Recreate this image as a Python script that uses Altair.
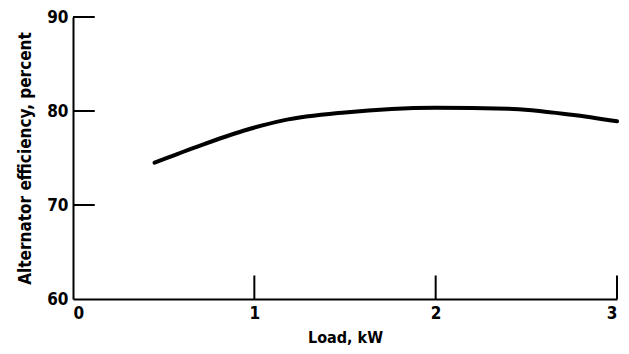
import altair as alt
import pandas as pd

# Curve data
load_kw = [0.45, 0.67, 0.94, 1.16, 1.5, 2.0, 2.4, 2.75, 3.0]
efficiency = [74.5, 76.1, 77.9, 79.0, 79.85, 80.35, 80.25, 79.6, 78.9]

# Axis tick values
x_ticks = [0, 1, 2, 3]
y_ticks = [60, 70, 80, 90]
x_inner_ticks = [1, 2, 3]
y_inner_ticks = [70, 80, 90]

FONT = "DejaVu Sans Condensed, Liberation Sans, sans-serif"

curve_df = pd.DataFrame({"load": load_kw, "eff": efficiency})
xt_df = pd.DataFrame({"x": x_inner_ticks, "y0": [60] * 3, "y1": [62.5] * 3})
yt_df = pd.DataFrame({"y": y_inner_ticks, "x0": [0] * 3, "x1": [0.12] * 3})

xscale = alt.Scale(domain=[0, 3], nice=False, zero=False)
yscale = alt.Scale(domain=[60, 90], nice=False, zero=False)

xaxis = alt.Axis(values=x_ticks, format="d", ticks=False, grid=False, domainWidth=2,
                 domainColor="black", labelFont=FONT, labelFontSize=17,
                 labelFontWeight="bold", labelColor="black", labelPadding=6,
                 title="Load,  kW", titleFont=FONT, titleFontSize=16,
                 titleFontWeight="bold", titleColor="black", titlePadding=8)
yaxis = alt.Axis(values=y_ticks, format="d", ticks=False, grid=False, domainWidth=2,
                 domainColor="black", labelFont=FONT, labelFontSize=17,
                 labelFontWeight="bold", labelColor="black", labelPadding=5,
                 title="Alternator efficiency,  percent", titleFont=FONT,
                 titleFontSize=17, titleFontWeight="bold", titleColor="black",
                 titlePadding=12)

curve = alt.Chart(curve_df).mark_line(
    color="black", strokeWidth=4, interpolate="monotone", strokeCap="round"
).encode(
    x=alt.X("load:Q", scale=xscale, axis=xaxis),
    y=alt.Y("eff:Q", scale=yscale, axis=yaxis),
)

xt = alt.Chart(xt_df).mark_rule(color="black", strokeWidth=2).encode(
    x=alt.X("x:Q", scale=xscale),
    y=alt.Y("y0:Q", scale=yscale),
    y2="y1:Q",
)

yt = alt.Chart(yt_df).mark_rule(color="black", strokeWidth=2).encode(
    y=alt.Y("y:Q", scale=yscale),
    x=alt.X("x0:Q", scale=xscale),
    x2="x1:Q",
)

chart = alt.layer(curve, xt, yt).properties(
    width=544,
    height=282,
    padding={"left": 65, "top": 9, "right": 4, "bottom": 46},
    autosize=alt.AutoSizeParams(type="none"),
    background="white",
).configure_view(stroke=None)

chart.save("out.html", embed_options={"renderer": "svg", "actions": False})
